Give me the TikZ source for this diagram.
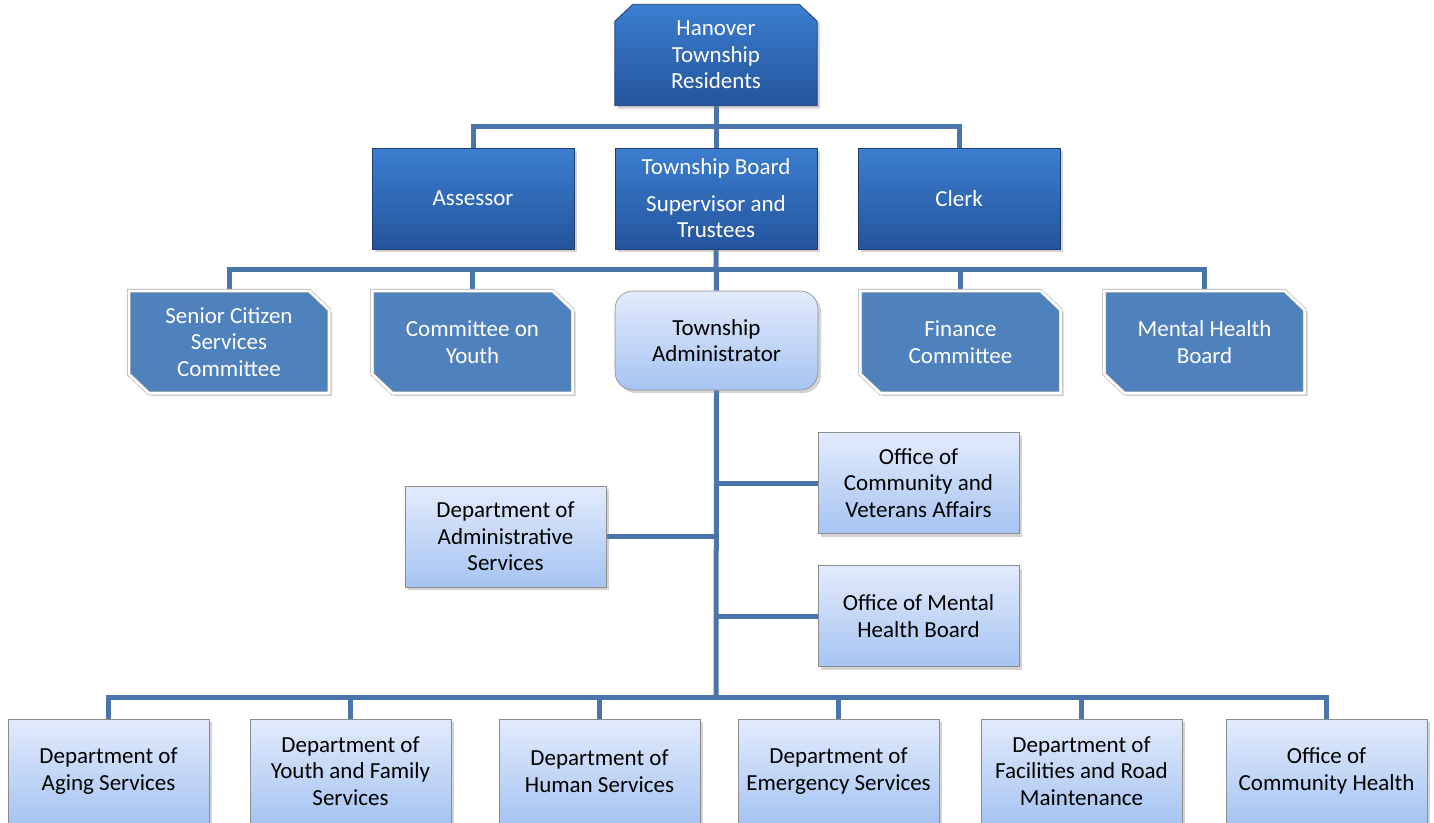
\documentclass[tikz,border=0pt]{standalone}
\usepackage{fontspec}
\setmainfont{Carlito}
\usetikzlibrary{shadows,backgrounds}
\definecolor{linec}{RGB}{74,117,170}
\definecolor{darktop}{RGB}{60,126,208}
\definecolor{darkbot}{RGB}{36,84,155}
\definecolor{darkedge}{RGB}{30,60,110}
\definecolor{medfill}{RGB}{79,129,189}
\definecolor{lighttop}{RGB}{226,235,252}
\definecolor{lightbot}{RGB}{166,196,242}
\definecolor{lightedge}{RGB}{140,140,140}
\pgfdeclarelayer{shapelayer}
\pgfsetlayers{background,shapelayer,main}
\begin{document}
\begin{tikzpicture}[x=1pt,y=-1pt,
  base/.style={font=\fontsize{23}{26.5}\selectfont, align=center, inner sep=0pt},
  shad/.style={drop shadow={shadow xshift=3pt, shadow yshift=-3pt, opacity=0.35}},
  darkbox/.style={base, shad, rectangle, minimum width=202pt, minimum height=101pt,
    draw=darkedge, line width=0.8pt, top color=darktop, bottom color=darkbot, text=white},
  toptext/.style={base, rectangle, minimum width=202pt, minimum height=101pt, text=white},
  topshape/.style={shad, draw=darkedge, line width=0.8pt, top color=darktop, bottom color=darkbot},
  medtext/.style={base, rectangle, minimum width=200pt, minimum height=102pt, text=white},
  medshape/.style={shad, fill=medfill, draw=gray!65, double=white, double distance=2.6pt, line width=0.6pt},
  lightbox/.style={base, shad, rectangle, minimum width=201pt, minimum height=101pt,
    draw=lightedge, line width=0.6pt, top color=lighttop, bottom color=lightbot, text=black},
  adminbox/.style={lightbox, rounded corners=18pt, minimum width=203pt, minimum height=99pt},
  botbox/.style={lightbox, minimum height=104pt},
  conn/.style={draw=linec, line width=5pt}
]
\useasboundingbox (0,0) rectangle (1434,822);

% top
\node[toptext] (res) at (716,55) {Hanover\\Township\\Residents};
\node[darkbox] (assessor) at (473,198.5) {Assessor};
\node[darkbox] (board) at (716,198.5) {Township Board\\[10pt]Supervisor and\\Trustees};
\node[darkbox] (clerk) at (959,198.5) {Clerk};

% committees
\node[medtext] (senior) at (229,342) {Senior Citizen\\Services\\Committee};
\node[medtext] (youthc) at (472.5,342) {Committee on\\Youth};
\node[adminbox] (admin) at (716.5,340.5) {Township\\Administrator};
\node[medtext] (finance) at (960.5,342) {Finance\\Committee};
\node[medtext] (mhb) at (1204.5,342) {Mental Health\\Board};

% middle
\node[lightbox] (ocva) at (918.5,483) {Office of\\Community and\\Veterans Affairs};
\node[lightbox] (das) at (505.5,536.5) {Department of\\Administrative\\Services};
\node[lightbox] (omhb) at (918.5,616) {Office of Mental\\Health Board};

% bottom row
\node[botbox] (aging) at (108.5,771) {Department of\\Aging Services};
\node[botbox] (yfs) at (350.5,771) {Department of\\Youth and Family\\Services};
\node[botbox] (hs) at (599.5,771) {Department of\\Human Services};
\node[botbox] (es) at (838.5,771) {Department of\\Emergency Services};
\node[botbox] (frm) at (1081.5,771) {Department of\\Facilities and Road\\Maintenance};
\node[botbox] (och) at (1326.5,771) {Office of\\Community Health};

\begin{pgfonlayer}{shapelayer}
  \path[topshape] ([yshift=-17pt]res.north west) -- ([xshift=18pt]res.north west)
    -- ([xshift=-18pt]res.north east) -- ([yshift=-17pt]res.north east)
    -- (res.south east) -- (res.south west) -- cycle;
  \foreach \n in {senior,youthc,finance,mhb}{
    \path[medshape] (\n.north west) -- ([xshift=-20pt]\n.north east) -- ([yshift=-19pt]\n.north east)
      -- (\n.south east) -- ([xshift=20pt]\n.south west) -- ([yshift=19pt]\n.south west) -- cycle;
  }
\end{pgfonlayer}

\coordinate (bus1) at (716,126);
\coordinate (bus2) at (716,269);
\coordinate (bus3) at (716,697);

\begin{scope}[on background layer]
  \draw[conn] (res.south) -- (board.north);
  \draw[conn] (assessor.north) |- (bus1) -| (clerk.north);
  \draw[conn] (board.south) -- (admin.north);
  \draw[conn] (senior.north) |- (bus2) -| (mhb.north);
  \draw[conn] (youthc.north) -- (youthc.north |- bus2);
  \draw[conn] (finance.north) -- (finance.north |- bus2);
  \draw[conn] (admin.south) -- (bus3);
  \draw[conn] (ocva.west) -- (ocva.west -| admin.south);
  \draw[conn] (das.east) -- (das.east -| admin.south);
  \draw[conn] (omhb.west) -- (omhb.west -| admin.south);
  \draw[conn] (aging.north) |- (bus3) -| (och.north);
  \draw[conn] (yfs.north) -- (yfs.north |- bus3);
  \draw[conn] (hs.north) -- (hs.north |- bus3);
  \draw[conn] (es.north) -- (es.north |- bus3);
  \draw[conn] (frm.north) -- (frm.north |- bus3);
\end{scope}
\end{tikzpicture}
\end{document}
